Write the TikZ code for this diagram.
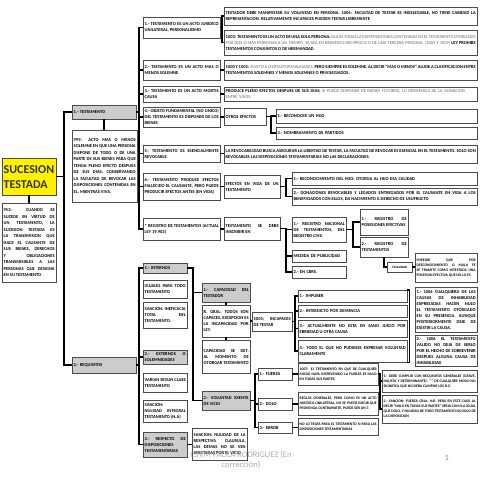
\documentclass[tikz,border=0pt]{standalone}
\usepackage{fontspec}
\setmainfont{Carlito}
\usetikzlibrary{shadows}
\hyphenpenalty=10000
\exhyphenpenalty=10000
\tolerance=9999
\emergencystretch=3em
\newcommand{\lite}[1]{{\mdseries\color{black!60}#1}}
\tikzset{
  box size/.code 2 args={%
    \pgfmathsetlengthmacro\bxtw{(#1)*2pt-6pt}%
    \pgfmathsetlengthmacro\bxht{(#2)*2pt}%
    \tikzset{text width=\bxtw,minimum height=\bxht}},
}
\begin{document}
\begin{tikzpicture}[x=2pt,y=-2pt,
  main node/.style={draw=black!70,line width=0.8pt,fill=white,anchor=north west,inner xsep=3pt,inner ysep=1pt,align=justify,font=\fontsize{9}{12}\selectfont\bfseries,drop shadow={shadow xshift=1.2pt,shadow yshift=-1.2pt,fill=black!35}},
  head node/.style={main node,fill=black!20},
  small node/.style={main node,font=\fontsize{7.5}{10}\selectfont\bfseries},
  link/.style={line width=3pt,black}]
\fill[white] (0,0) rectangle (480,480);
\useasboundingbox (0,0) rectangle (480,480);

% root
\node[main node,box size={54}{37},fill=yellow,text=black!80,align=left,font=\fontsize{24}{30}\selectfont\bfseries] (suc) at (2,158) {SUCESION\\TESTADA};
\node[main node,box size={54}{79},font=\fontsize{9}{13}\selectfont\bfseries] (def952) at (2,203) {952: CUANDO SE SUCEDE EN VIRTUD DE UN TESTAMENTO, LA SUCESION TESTADA ES LA TRANSMISION QUE HACE EL CAUSANTE DE SUS BIENES, DERECHOS Y OBLIGACIONES TRANSMISIBLES A LAS PERSONAS QUE DESIGNA EN SU TESTAMENTO};
\node[head node,box size={64}{14},align=left] (testa) at (72,105) {1.- TESTAMENTO};
\node[main node,box size={65}{72},font=\fontsize{9}{13}\selectfont\bfseries] (def999) at (72,130) {999: ACTO MAS O MENOS SOLEMNE EN QUE UNA PERSONA DISPONE DE TODO O DE UNA PARTE DE SUS BIENES PARA QUE TENGA PLENO EFECTO DESPUES DE SUS DIAS, CONSERVANDO LA FACULTAD DE REVOCAR LAS DISPOSICIONES CONTENIDAS EN EL, MIENTRAS VIVA.};
\node[head node,box size={64}{16},align=left] (req) at (72,357) {2.- REQUISITOS};

% testamento
\node[main node,box size={77}{21}] (ca) at (143,17) {1.- TESTAMENTO ES UN ACTO JURIDICO UNILATERAL, PERSONALISIMO};
\node[main node,box size={77}{20}] (cb) at (143,60) {2.- TESTAMENTO ES UN ACTO MAS O MENOS SOLEMNE};
\node[main node,box size={77}{16}] (cc) at (143,86) {3.- TESTAMENTO ES UN ACTO MORTIS CAUSA};
\node[main node,box size={77}{20}] (cd) at (143,107) {4.- OBJETO FUNDAMENTAL (NO UNICO) DEL TESTAMENTO ES DISPONER DE LOS BIENES};
\node[main node,box size={77}{17}] (ce) at (143,145) {5.- TESTAMENTO ES ESENCIALMENTE REVOCABLE};
\node[main node,box size={77}{27}] (cf) at (143,173) {6.- TESTAMENTO PRODUCE EFECTOS FALLECIDO EL CAUSANTE, PERO PUEDE PRODUCIR EFECTOS ANTES (EN VIDA)};
\node[main node,box size={77}{22}] (cg) at (143,218) {* REGISTRO DE TESTAMENTOS (ACTUAL LEY 19.903)};

\node[main node,box size={253}{18}] (ca1) at (224,7) {TESTADOR DEBE MANIFESTAR SU VOLUNTAD EN PERSONA. 1004: FACULTAD DE TESTAR ES INDELEGABLE, NO TIENE CABIDAD LA REPRESENTACION. RELATIVAMENTE INCAPACES PUEDEN TESTAR LIBREMENTE};
\node[main node,box size={253}{25}] (ca2) at (224,30) {1003: TESTAMENTO ES UN ACTO DE UNA SOLA PERSONA: \lite{NULAS TODAS LAS DISPOSICIONES CONTENIDAS EN EL TESTAMENTO OTORGADO POR DOS O MAS PERSONAS A UN TIEMPO, YA SEA EN BENEFICIO RECIPROCO O DE UNA TERCERA PERSONA. (1003 Y 1059)} LEY PROHIBE TESTAMENTOS CONJUNTOS O DE HERMANDAD};
\node[main node,box size={253}{20}] (cb1) at (224,60) {1000 Y 1002: \lite{SUJETO A CIERTAS FORMALIDADES,} PERO SIEMPRE ES SOLEMNE, AL DECIR “MAS O MENOS” ALUDE A CLASIFICACION ENTRE TESTAMENTOS SOLEMNES Y MENOS SOLEMNES O PRIVILEGIADOS.};
\node[main node,box size={253}{14},align=left] (cc1) at (224,87) {PRODUCE PLENO EFECTOS DESPUES DE SUS DIAS; \lite{SI PUEDE DISPONER DE BIENES FUTUROS, LO DIFERENCIA DE LA DONACION ENTRE VIVOS.}};
\node[main node,box size={42}{17},align=left] (cd1) at (224,108) {OTROS EFECTOS};
\node[main node,box size={201}{14},align=left] (cd2) at (276,109) {1.- RECONOCER UN HIJO};
\node[main node,box size={201}{12},align=left] (cd3) at (276,127) {2.- NOMBRAMIENTO DE PARTIDOS};
\node[main node,box size={253}{18}] (ce1) at (224,145) {LA REVOCABILIDAD BUSCA ASEGURAR LA LIBERTAD DE TESTAR, LA FACULTAD DE REVOCAR ES ESENCIAL EN EL TESTAMENTO. SOLO SON REVOCABLES LAS DISPOSICIONES TESTAMENTARIAS NO LAS DECLARACIONES.};
\node[main node,box size={56}{23}] (cf1) at (224,175) {EFECTOS EN VIDA DE UN TESTAMENTO};
\node[main node,box size={185}{13},align=left] (cf2) at (292,172) {1.- RECONOCIMIENTO DEL HIJO: OTORGA AL HIJO ESA CALIDAD};
\node[main node,box size={185}{17}] (cf3) at (292,188) {2.- DONACIONES REVOCABLES Y LEGADOS ENTREGADOS POR EL CAUSANTE EN VIDA A LOS BENEFICIADOS CON ELLOS, DA NACIMIENTO A DERECHO DE USUFRUCTO};
\node[main node,box size={56}{23}] (cg1) at (224,217) {TESTAMENTO SE DEBE INSCRIBIR EN};
\node[main node,box size={54}{25}] (cg2) at (292,217) {1.- REGISTRO NACIONAL DE TESTAMENTOS, DEL REGISTRO CIVIL};
\node[main node,box size={54}{12},align=left] (cg3) at (292,250) {MEDIDA DE PUBLICIDAD};
\node[main node,box size={54}{12},align=left] (cg4) at (292,266) {2.- EN CBRS.};
\node[main node,box size={48}{26}] (cg5) at (360,209) {1.- REGISTRO DE POSESIONES EFECTIVAS};
\node[main node,box size={48}{20}] (cg6) at (360,237) {2.- REGISTRO DE TESTAMENTOS};
\node[main node,box size={25}{10},align=center,font=\fontsize{6.5}{8}\selectfont\bfseries] (cg7) at (387,262) {FINALIDAD};
\node[small node,box size={62}{29}] (cg8) at (415,253) {IMPEDIR QUE POR DESCONOCIMIENTO O MALA FE SE TRAMITE COMO INTESTADA UNA POSESION EFECTIVA QUE NO LO ES};

% requisitos
\node[head node,box size={44}{10},align=left] (ri) at (143,263) {1.- INTERNOS};
\node[main node,box size={44}{18}] (ri1) at (143,280) {IGUALES PARA TODO TESTAMENTO};
\node[main node,box size={44}{26}] (ri2) at (143,302) {SANCION: INEFICACIA TOTAL DEL TESTAMENTO.};
\node[head node,box size={44}{14}] (re) at (143,350) {2.- EXTERNOS O SOLEMNIDADES};
\node[main node,box size={44}{19}] (re1) at (143,373) {VARIAN SEGUN CLASE TESTAMENTO};
\node[main node,box size={44}{22}] (re2) at (143,400) {SANCION: NULIDAD INTEGRAL TESTAMENTO (N.A)};
\node[head node,box size={44}{25}] (rd) at (143,432) {3.- RESPECTO DE DISPOSICIONES TESTAMENTARIAS};
\node[main node,box size={55}{32}] (rd1) at (192,428) {SANCION: NULIDAD DE LA RESPECTIVA CLAUSULA, LAS DEMAS NO SE VEN AFECTADAS POR EL VICIO};

\node[head node,box size={48}{19}] (cap) at (202,283) {1.- CAPACIDAD DEL TESTADOR};
\node[main node,box size={48}{32}] (cap1) at (202,305) {R. GRAL: TODOS SON CAPACES, EXCEPCION ES LA INCAPACIDAD POR LEY.};
\node[main node,box size={48}{33}] (cap2) at (202,340) {CAPACIDAD SE DET. AL MOMENTO DE OTORGAR TESTAMENTO};
\node[main node,box size={40}{19}] (inc) at (252,312) {1005; INCAPACES DE TESTAR};
\node[main node,box size={109}{12},align=left] (i1) at (298,290) {1.- IMPUBER};
\node[main node,box size={109}{12},align=left] (i2) at (298,305) {2.- INTERDICTO POR DEMENCIA};
\node[main node,box size={109}{17}] (i3) at (298,320) {3.- ACTUALMENTE NO ESTA EN SANO JUICIO POR EBRIEDAD U OTRA CAUSA};
\node[main node,box size={109}{22}] (i4) at (298,340) {4.- TODO EL QUE NO PUDIESES EXPRESAR VOLUNTAD CLARAMENTE};
\node[main node,box size={62}{45}] (n1) at (415,287) {1.- 1006 CUALQUIERA DE LAS CAUSAS DE INHABILIDAD EXPRESADAS HACEN NULO EL TESTAMENTO OTORGADO EN SU PRESENCIA, AUNQUE POSTERIORMENTE DEJE DE EXISTIR LA CAUSA.};
\node[main node,box size={62}{31}] (n2) at (415,335) {2.- 1006 EL TESTAMENTO VALIDO NO DEJA DE SERLO POR EL HECHO DE SOBREVENIR DESPUES ALGUNA CAUSA DE INHABILIDAD};

\node[head node,box size={48}{19}] (vol) at (202,391) {2.- VOLUNTAD EXENTA DE VICIO};
\node[main node,box size={34}{12},align=left] (v1) at (258,368) {1.- FUERZA};
\node[main node,box size={34}{12},align=left] (v2) at (258,398) {2.- DOLO};
\node[main node,box size={34}{11},align=left] (v3) at (258,422) {3.- ERROR};
\node[small node,box size={80}{22}] (v1e) at (298,363) {1007: EL TESTAMENTO EN QUE DE CUALQUIER MODO HAYA INTERVENIDO LA FUERZA ES NULO EN TODAS SUS PARTES};
\node[small node,box size={80}{23}] (v2e) at (298,392) {REGLAS GENERALES, PERO COMO ES UN ACTO JURIDICO UNILATERAL, NO SE PUEDE EXIGIR QUE PROVENGA CONTRAPARTE, PUEDE SER UN 3};
\node[small node,box size={80}{17}] (v3e) at (298,418) {NO LO TRATA PARA EL TESTAMENTO SI PARA LAS DISPOSICIONES TESTAMENTARIAS};
\node[small node,box size={95}{22}] (w1) at (382,370) {1.- DEBE CUMPLIR CON REQUISITOS GENERALES (GRAVE, INJUSTA Y DETERMINANTE). “ ” DE CUALQUIER MODO NO SIGNIFICA QUE NO DEBA CUMPLIR LOS R.G};
\node[small node,box size={95}{28}] (w2) at (382,395) {2.- SANCION: FUERZA GRAL: N.R. PERO EN ESTE CASO AL DECIR “NULO EN TODAS SUS PARTES” SERIA CON N.A IGUAL QUE DOLO, Y NULIDAD DE TODO TESTAMENTO NO SOLO DE LA DISPOSICION};

% buses
\coordinate (bus1) at (64,0);
\coordinate (bus2) at (139,0);
\coordinate (busa) at (222,0);
\coordinate (busd) at (271,0);
\coordinate (busf) at (286,0);
\coordinate (busr) at (353,0);
\coordinate (busi) at (193,0);
\coordinate (busc) at (295,0);
\coordinate (busv) at (255,0);
\coordinate (busw) at (380,0);

\draw[link] (suc.south) -- (suc.south |- def952.north);
\draw[link] (suc.east) -- (suc.east -| bus1) |- (testa.west)
            (suc.east -| bus1) |- (req.west);
\draw[link] (testa.south) -- (testa.south |- def999.north);
\draw[link] (testa.east) -- (testa.east -| bus2) |- (ca.west)
            (testa.east -| bus2) |- (cb.west)
            (testa.east -| bus2) |- (cc.west)
            (testa.east -| bus2) |- (cd.west)
            (testa.east -| bus2) |- (ce.west)
            (testa.east -| bus2) |- (cf.west)
            (testa.east -| bus2) |- (cg.west);
\draw[link] (ca.east) -- (ca.east -| busa) |- (ca1.west)
            (ca.east -| busa) |- (ca2.west);
\draw[link] (cb.east) -- (cb.east -| cb1.west);
\draw[link] (cc.east) -- (cc.east -| cc1.west);
\draw[link] (cd.east) -- (cd.east -| cd1.west);
\draw[link] (cd1.east) -- (cd1.east -| busd) |- (cd2.west)
            (cd1.east -| busd) |- (cd3.west);
\draw[link] (ce.east) -- (ce.east -| ce1.west);
\draw[link] (cf.east) -- (cf.east -| cf1.west);
\draw[link] (cf1.east) -- (cf1.east -| busf) |- (cf2.west)
            (cf1.east -| busf) |- (cf3.west);
\draw[link] (cg.east) -- (cg.east -| cg1.west);
\draw[link] (cg1.east) -- (cg1.east -| busf) |- (cg2.west)
            (cg1.east -| busf) |- (cg3.west)
            (cg1.east -| busf) |- (cg4.west);
\draw[link] (cg2.east) -- (cg2.east -| busr) |- (cg5.west)
            (cg2.east -| busr) |- (cg6.west);
\draw[link] (cg6.south) |- (cg7.west);
\draw[link] (cg7.east) -- (cg7.east -| cg8.west);

\draw[link] (req.east) -- (req.east -| bus2) |- (ri.west)
            (req.east -| bus2) |- (re.west)
            (req.east -| bus2) |- (rd.west);
\draw[link] (rd.east) -- (rd.east -| rd1.west);
\draw[link] (ri.east) -- (ri.east -| busi) |- (cap.west)
            (ri.east -| busi) |- (vol.west);
\draw[link] (cap.south) -- (cap.south |- cap1.north);
\draw[link] (cap1.south) -- (cap1.south |- cap2.north);
\draw[link] (cap1.east) -- (cap1.east -| inc.west);
\draw[link] (inc.east) -- (inc.east -| busc) |- (i1.west)
            (inc.east -| busc) |- (i2.west)
            (inc.east -| busc) |- (i3.west)
            (inc.east -| busc) |- (i4.west);
\draw[link] (i1.north east) -- ++(2,0) |- (i4.south east);
\draw[link] (vol.east) -- (vol.east -| busv) |- (v1.west)
            (vol.east -| busv) |- (v2.west)
            (vol.east -| busv) |- (v3.west);
\draw[link] (v1.east) -- (v1.east -| v1e.west);
\draw[link] (v2.east) -- (v2.east -| v2e.west);
\draw[link] (v3.east) -- (v3.east -| v3e.west);
\draw[link] (v1e.east) -- (v1e.east -| busw) |- (w1.west)
            (v1e.east -| busw) |- (w2.west);

% pie de pagina
\node[text=black!40,opacity=.8,align=center,font=\fontsize{17}{19}\selectfont] (foot) at (241,460) {CSVM PAOLA RODRIGUEZ (En\\corrección)};
\node[text=black!45,font=\fontsize{16}{16}\selectfont] (pg) at (447,458) {1};
\end{tikzpicture}
\end{document}
